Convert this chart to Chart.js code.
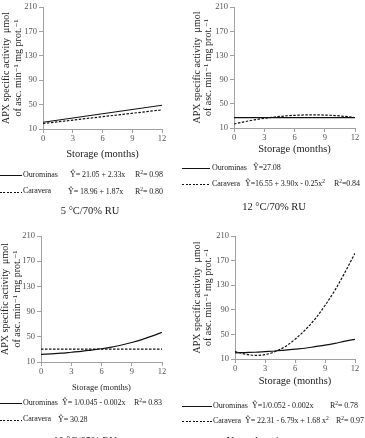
<!DOCTYPE html>
<html>
<head>
<meta charset="utf-8">
<script src="https://cdn.jsdelivr.net/npm/chart.js@4"></script>
<style>
  body { margin: 0; background: #fff; width: 365px; height: 438px; overflow: hidden; position: relative;
         font-family: "Liberation Serif", "DejaVu Serif", serif; color: #222; }
  canvas { position: absolute; }
  .t { position: absolute; white-space: nowrap; font-size: 8px; line-height: 10px; letter-spacing: -0.1px; will-change: transform; }
  .t sup { font-size: 5.5px; vertical-align: 3px; line-height: 0; }
  .cap { position: absolute; white-space: nowrap; font-size: 10.5px; line-height: 12px; transform: translateX(-50%); will-change: transform; }
  .ln { position: absolute; height: 1px; background: #111; }
  .ln.dash { background: repeating-linear-gradient(to right, #111 0 2px, transparent 2px 3.5px); }
</style>
</head>
<body>
<canvas id="c1" width="175" height="162" style="left:0;top:0"></canvas>
<canvas id="c2" width="183" height="160" style="left:182px;top:0"></canvas>
<canvas id="c3" width="175" height="170" style="left:0;top:226px"></canvas>
<canvas id="c4" width="183" height="165" style="left:182px;top:226px"></canvas>

<!-- legends and captions -->
<div class="ln" style="left:0;top:175px;width:22px"></div>
<div class="t" style="left:23px;top:170px">Ourominas</div>
<div class="t" style="left:70px;top:170px">Ŷ= 21.05 + 2.33x</div>
<div class="t" style="left:135px;top:170px">R<sup>2</sup>= 0.98</div>
<div class="ln dash" style="left:0;top:192px;width:22px"></div>
<div class="t" style="left:23px;top:186px">Caravera</div>
<div class="t" style="left:68px;top:187px">Ŷ= 18.96 + 1.87x</div>
<div class="t" style="left:135px;top:187px">R<sup>2</sup>= 0.80</div>
<div class="cap" style="left:90px;top:205px">5 °C/70% RU</div>

<div class="ln" style="left:182px;top:168px;width:28px"></div>
<div class="t" style="left:212px;top:163px">Ourominas</div>
<div class="t" style="left:253px;top:163px">Ŷ=27.08</div>
<div class="ln dash" style="left:182px;top:184px;width:28px"></div>
<div class="t" style="left:212px;top:179px">Caravera</div>
<div class="t" style="left:245px;top:179px">Ŷ=16.55 + 3.90x - 0.25x<sup>2</sup></div>
<div class="t" style="left:334px;top:179px">R<sup>2</sup>=0.84</div>
<div class="cap" style="left:274px;top:201px">12 °C/70% RU</div>

<div class="ln" style="left:0;top:403px;width:22px"></div>
<div class="t" style="left:23px;top:398px">Ourominas</div>
<div class="t" style="left:62px;top:398px">Ŷ= 1/0.045 - 0.002x</div>
<div class="t" style="left:134px;top:398px">R<sup>2</sup>= 0.83</div>
<div class="ln dash" style="left:0;top:420px;width:22px"></div>
<div class="t" style="left:23px;top:414px">Caravera</div>
<div class="t" style="left:58px;top:415px">Ŷ= 30.28</div>
<div class="cap" style="left:85px;top:435px">10 °C/65% RU</div>

<div class="ln" style="left:182px;top:406px;width:30px"></div>
<div class="t" style="left:213px;top:401px">Ourominas</div>
<div class="t" style="left:252px;top:401px">Ŷ=1/0.052 - 0.002x</div>
<div class="t" style="left:330px;top:401px">R<sup>2</sup>= 0.78</div>
<div class="ln dash" style="left:182px;top:421px;width:30px"></div>
<div class="t" style="left:213px;top:416px">Caravera</div>
<div class="t" style="left:245px;top:416px">Ŷ= 22.31 - 6.79x + 1.68 x<sup>2</sup></div>
<div class="t" style="left:336px;top:416px">R<sup>2</sup>= 0.97</div>
<div class="cap" style="left:270px;top:435px">Natural environment</div>

<script>
// storage months
const endMonths = [0, 12];
const months = [0, 1, 2, 3, 4, 5, 6, 7, 8, 9, 10, 11, 12];

// 5 °C / 70% RU
const p1Ourominas = [21.1, 49.0];
const p1Caravera = [19.0, 41.4];

// 12 °C / 70% RU
const p2Ourominas = [27.1, 27.1];
const p2Caravera = [16.6, 20.2, 23.4, 26.0, 28.2, 29.8, 31.0, 31.6, 31.8, 31.4, 30.6, 29.2, 27.4];

// 10 °C / 65% RU
const p3Ourominas = [22, 23, 24, 25.5, 27, 29, 31, 33.5, 37, 41, 45.5, 51, 57];
const p3Caravera = [30.3, 30.3];

// natural environment
const p4Ourominas = [20, 20.5, 21, 22, 23, 24.5, 26, 27.5, 30, 32.5, 35.5, 39, 42];
const p4Caravera = [22, 18, 16, 17, 22, 30, 42, 57, 75, 97, 122, 151, 182];

const yTicks = [10, 50, 90, 130, 170, 210];
const xTitle = 'Storage (months)';
const yTitle = ['APX specific activity  μmol', 'of asc. min⁻¹ mg prot.⁻¹'];

const serif = '"Liberation Serif", "DejaVu Serif", serif';
const axisColor = '#a0a0a0';

function pts(xs, ys) {
  return xs.map((x, i) => ({ x: x, y: ys[i] }));
}

function draw(id, oX, oY, cX, cY, o) {
  new Chart(document.getElementById(id), {
    type: 'line',
    data: {
      datasets: [{
        label: 'Ourominas',
        data: pts(oX, oY),
        borderColor: '#111',
        borderWidth: 1.2,
        pointRadius: 0,
        cubicInterpolationMode: 'monotone'
      }, {
        label: 'Caravera',
        data: pts(cX, cY),
        borderColor: '#111',
        borderWidth: 1.2,
        borderDash: [2.5, 1.5],
        pointRadius: 0,
        cubicInterpolationMode: 'monotone'
      }]
    },
    options: {
      responsive: false,
      animation: false,
      layout: { padding: { top: o.top, right: o.right, left: 0, bottom: 0 } },
      plugins: { legend: { display: false }, tooltip: { enabled: false } },
      scales: {
        x: {
          type: 'linear',
          min: 0,
          max: 12,
          afterFit: s => { s.height = o.xh; },
          ticks: { stepSize: 3, color: '#555', font: { family: serif, size: 8.5 }, padding: 1, maxRotation: 0 },
          grid: { display: true, drawOnChartArea: false, tickLength: 4, color: axisColor },
          border: { color: axisColor },
          title: { display: true, text: xTitle, color: '#222',
                   font: { family: serif, size: o.xfs }, padding: { top: 0, bottom: o.xpb } }
        },
        y: {
          min: 10,
          max: 210,
          afterFit: s => { s.width = o.yw; },
          afterBuildTicks: s => { s.ticks = yTicks.map(v => ({ value: v })); },
          ticks: { color: '#555', font: { family: serif, size: 8.5 }, padding: 2 },
          grid: { display: true, drawOnChartArea: false, tickLength: 4, color: axisColor },
          border: { color: axisColor },
          title: { display: true, text: yTitle, color: '#222',
                   font: { family: serif, size: 10, lineHeight: 1.15 }, padding: { top: o.ypt, bottom: 0 } }
        }
      }
    }
  });
}

draw('c1', endMonths, p1Ourominas, endMonths, p1Caravera,
  { top: 7, right: 13, yw: 43, xh: 33, xfs: 10.5, xpb: 1, ypt: 1 });
draw('c2', endMonths, p2Ourominas, months, p2Caravera,
  { top: 7, right: 10, yw: 52, xh: 32, xfs: 10.5, xpb: 4, ypt: 9.5 });
draw('c3', months, p3Ourominas, endMonths, p3Caravera,
  { top: 10, right: 13, yw: 41, xh: 34, xfs: 8.5, xpb: 3, ypt: 0 });
draw('c4', months, p4Ourominas, months, p4Caravera,
  { top: 10, right: 10, yw: 53, xh: 32, xfs: 10.5, xpb: 3, ypt: 9.5 });
</script>
</body>
</html>
